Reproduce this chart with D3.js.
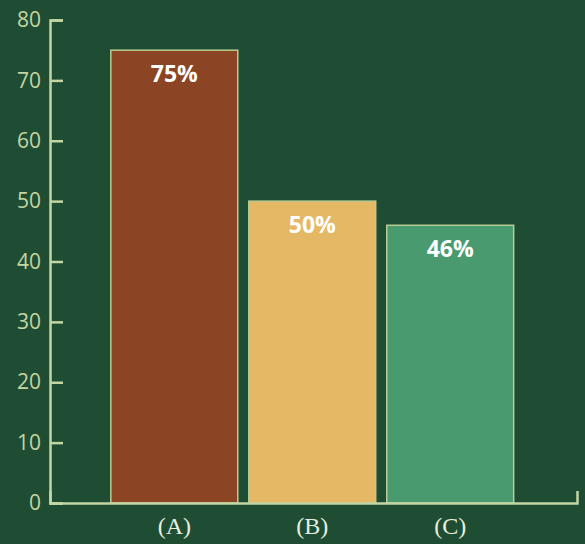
<!DOCTYPE html>
<html>
<head>
<meta charset="utf-8">
<script src="https://cdn.jsdelivr.net/npm/d3@7"></script>
<style>
  html, body { margin: 0; padding: 0; background: #1f4d34; }
  svg { display: block; }
</style>
</head>
<body>
<div id="chart"></div>
<script>
const categories = ["(A)", "(B)", "(C)"];
const values = [75, 50, 46];
const valueLabels = ["75%", "50%", "46%"];
const yTicks = [0, 10, 20, 30, 40, 50, 60, 70, 80];

const colors = ["#8b4524", "#e5b865", "#4a9a70"];
const axisColor = "#c3d5a2";

const width = 585, height = 544;
const margin = {top: 20, right: 8, bottom: 41, left: 50};

const svg = d3.select("#chart").append("svg")
    .attr("width", width)
    .attr("height", height);

svg.append("rect").attr("width", width).attr("height", height).attr("fill", "#1f4d34");

const g = svg.append("g")
    .attr("transform", "translate(" + margin.left + "," + margin.top + ")");

const innerW = width - margin.left - margin.right;
const innerH = height - margin.top - margin.bottom;

const x = d3.scaleBand()
    .domain(categories)
    .range([0, innerW])
    .paddingInner(0.08)
    .paddingOuter(0.45)
    .align(0.49);

const y = d3.scaleLinear()
    .domain([0, 80])
    .range([innerH, 0]);

// bars
g.selectAll("rect.bar")
    .data(values)
    .enter().append("rect")
    .attr("class", "bar")
    .attr("x", (d, i) => x(categories[i]))
    .attr("y", d => y(d))
    .attr("width", x.bandwidth())
    .attr("height", d => innerH - y(d))
    .attr("fill", (d, i) => colors[i])
    .attr("stroke", "#b9cc93")
    .attr("stroke-width", 1.5);

// value labels
g.selectAll("text.val")
    .data(values)
    .enter().append("text")
    .attr("class", "val")
    .attr("x", (d, i) => x(categories[i]) + x.bandwidth() / 2)
    .attr("y", d => y(d) + 32)
    .attr("text-anchor", "middle")
    .attr("fill", "#ffffff")
    .style("font-family", "'Open Sans', sans-serif")
    .style("font-weight", "bold")
    .style("font-size", "23px")
    .text((d, i) => valueLabels[i]);

// y axis
const yAxis = g.append("g")
    .call(d3.axisLeft(y).tickValues(yTicks).tickSize(-13).tickPadding(9));

// x axis
const xAxis = g.append("g")
    .attr("transform", "translate(0," + innerH + ")")
    .call(d3.axisBottom(x).tickSizeInner(0).tickSizeOuter(-12).tickPadding(14));

[yAxis, xAxis].forEach(a => {
    a.select(".domain").attr("stroke", axisColor).attr("stroke-width", 2.5);
    a.selectAll(".tick line").attr("stroke", axisColor).attr("stroke-width", 2.5);
});

yAxis.selectAll("text")
    .attr("fill", axisColor)
    .style("font-family", "'Open Sans', sans-serif")
    .style("font-size", "21px");

xAxis.selectAll("text")
    .attr("fill", "#e8eede")
    .style("font-family", "'Liberation Serif', serif")
    .style("font-size", "24px");
</script>
</body>
</html>
